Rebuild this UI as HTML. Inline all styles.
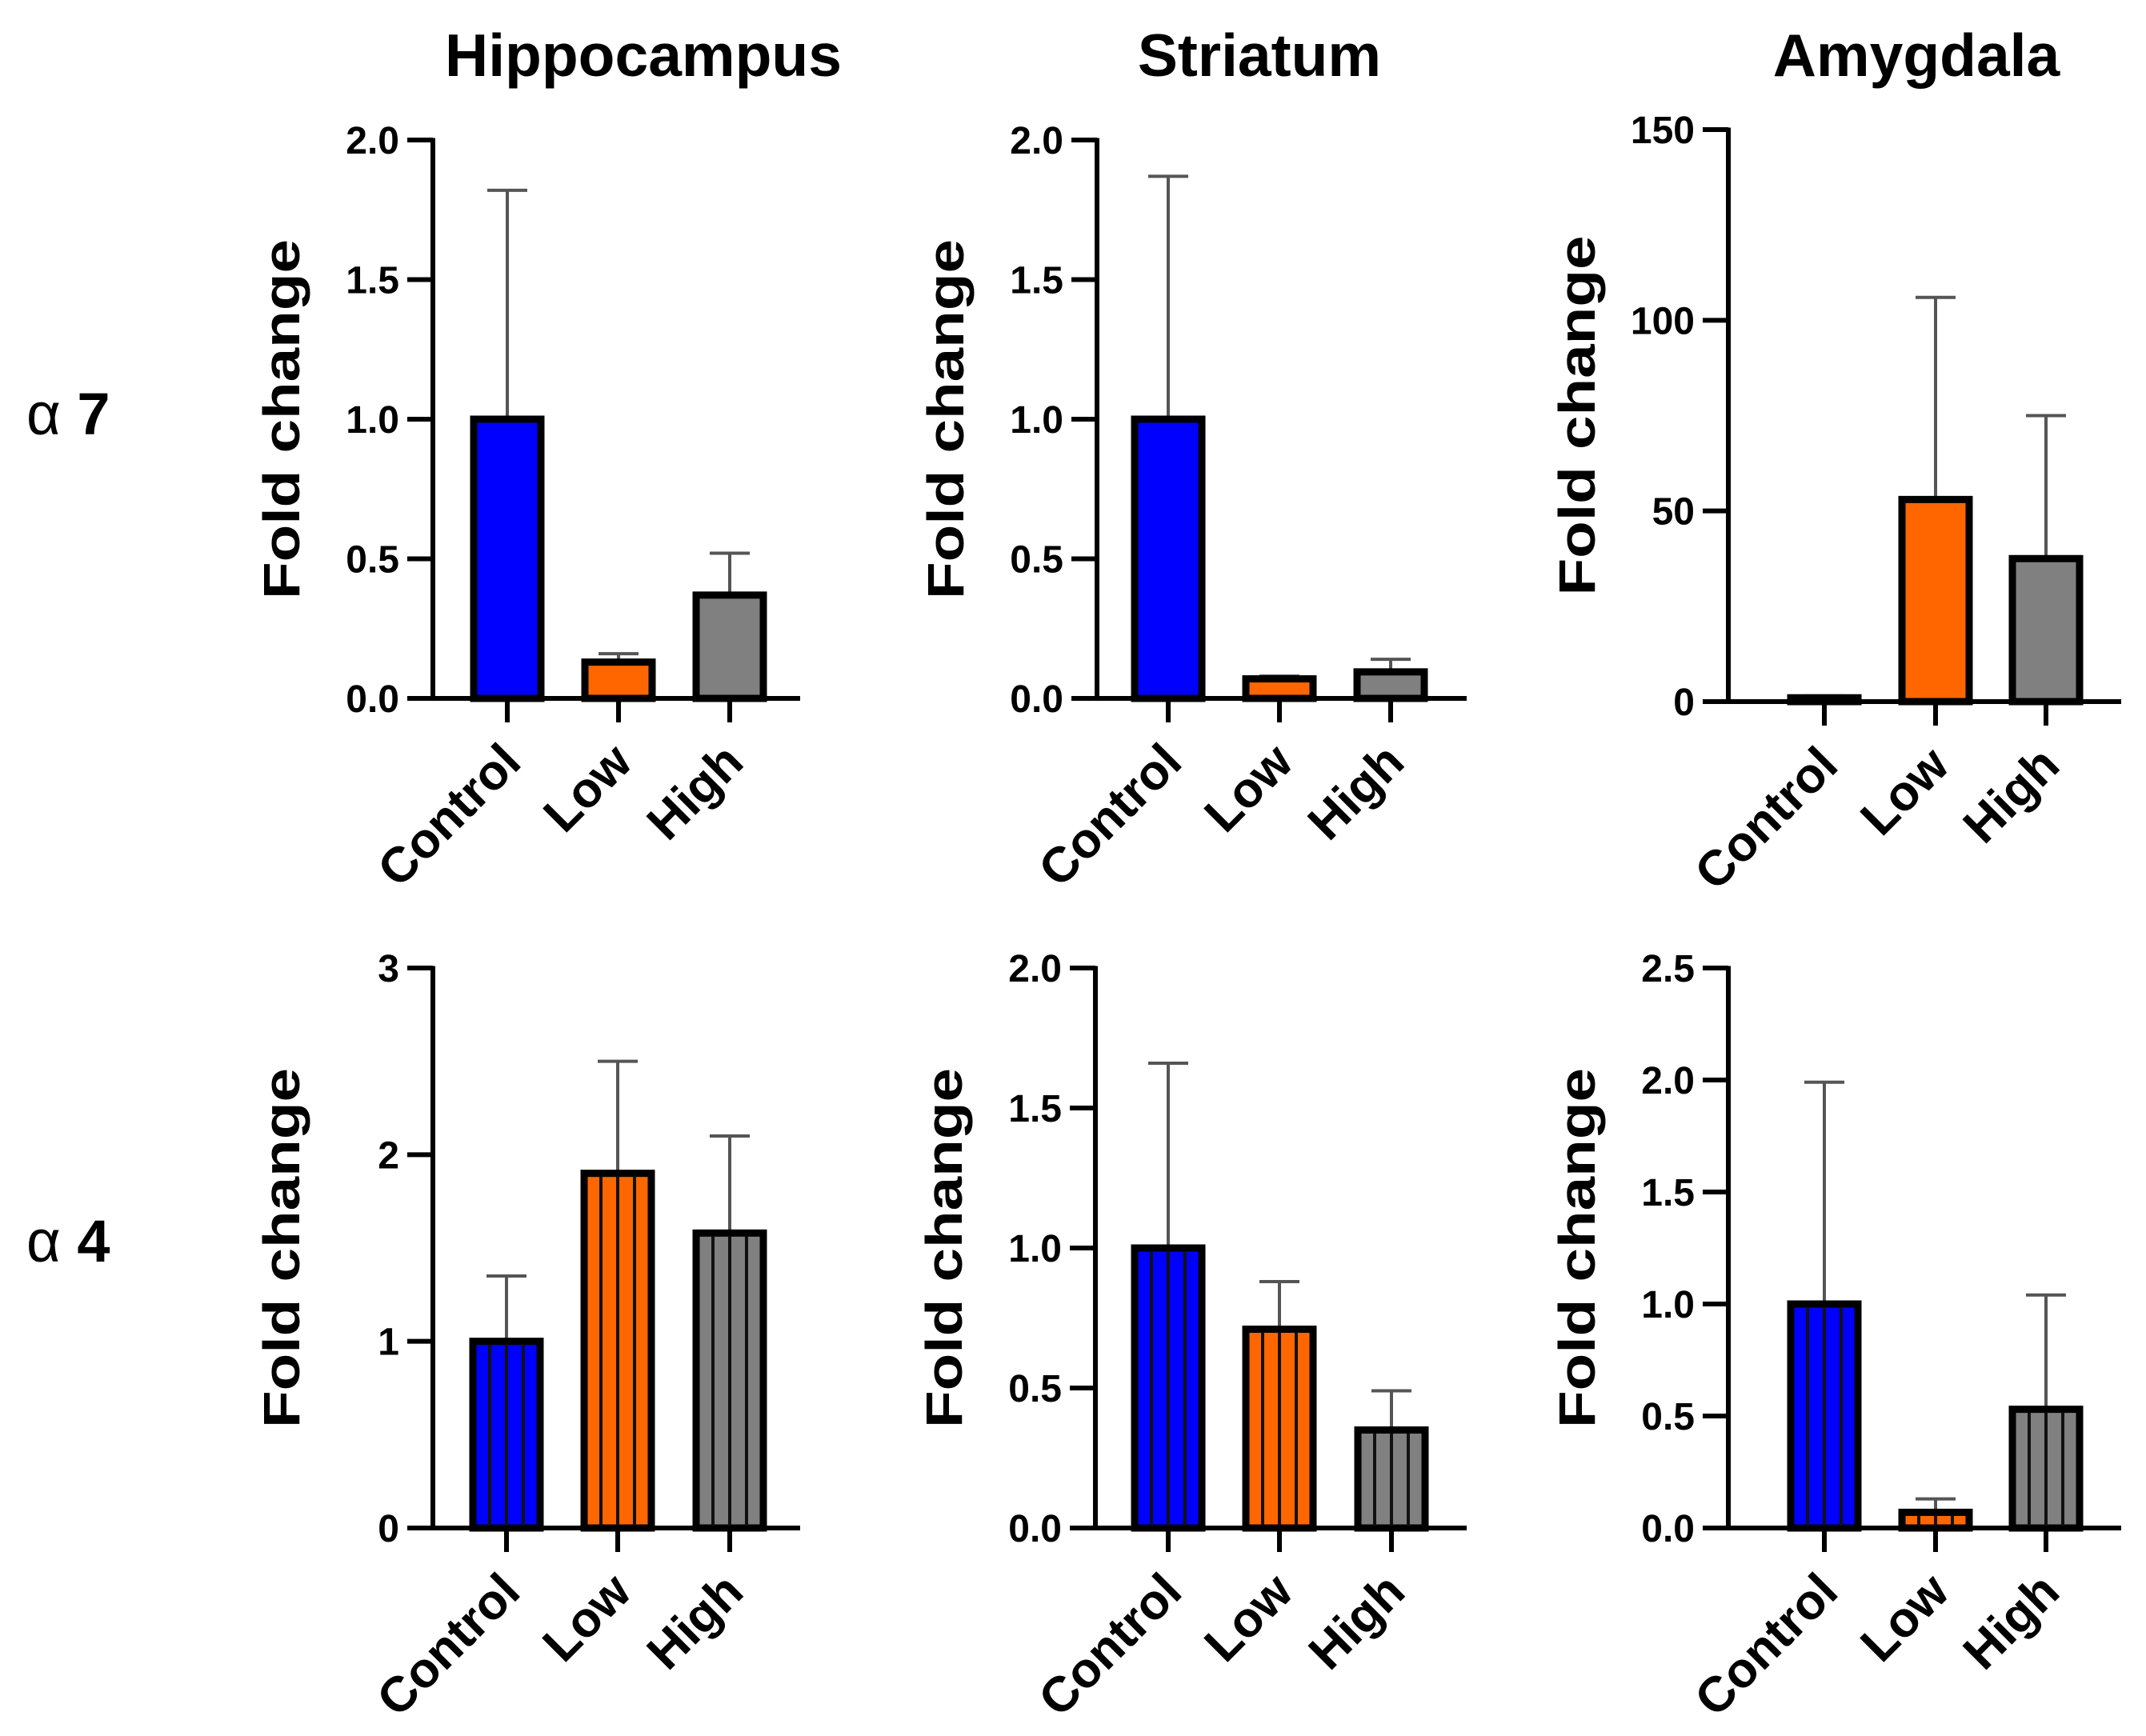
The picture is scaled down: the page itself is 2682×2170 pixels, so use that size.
<!DOCTYPE html>
<html><head><meta charset="utf-8"><style>
html,body{margin:0;padding:0;background:#fff;}
svg text{font-family:"Liberation Sans",Arial,sans-serif;}
</style></head><body>
<svg id="fig" width="2682" height="2165" viewBox="0 0 2682 2165" xmlns="http://www.w3.org/2000/svg">
<text x="804" y="95" font-size="75" font-weight="bold" text-anchor="middle">Hippocampus</text>
<text x="1574" y="95" font-size="75" font-weight="bold" text-anchor="middle">Striatum</text>
<text x="2395" y="95" font-size="75" font-weight="bold" text-anchor="middle">Amygdala</text>
<text x="33" y="543" font-size="74">α <tspan font-weight="bold">7</tspan></text>
<text x="33" y="1577" font-size="74">α <tspan font-weight="bold">4</tspan></text>
</svg>
<script>
const categories = ["Control","Low","High"];
const colors = ["#0000ff","#ff6600","#808080"];
const hipA7Means = [1.0, 0.13, 0.37];
const hipA7Errs  = [1.82, 0.16, 0.52];
const strA7Means = [1.0, 0.07, 0.095];
const strA7Errs  = [1.87, 0.08, 0.14];
const amyA7Means = [1.0, 53, 37.5];
const amyA7Errs  = [1.5, 106, 75];
const hipA4Means = [1.0, 1.9, 1.58];
const hipA4Errs  = [1.35, 2.5, 2.1];
const strA4Means = [1.0, 0.71, 0.35];
const strA4Errs  = [1.66, 0.88, 0.49];
const amyA4Means = [1.0, 0.07, 0.53];
const amyA4Errs  = [1.99, 0.13, 1.04];
const ticksA = [0, 0.5, 1.0, 1.5, 2.0];
const tickLabelsA = ["0.0","0.5","1.0","1.5","2.0"];
const ticksB = [0, 50, 100, 150];
const tickLabelsB = ["0","50","100","150"];
const ticksC = [0, 1, 2, 3];
const tickLabelsC = ["0","1","2","3"];
const ticksD = [0, 0.5, 1.0, 1.5, 2.0, 2.5];
const tickLabelsD = ["0.0","0.5","1.0","1.5","2.0","2.5"];

const NS = "http://www.w3.org/2000/svg";
const svg = document.getElementById("fig");
function mk(tag, attrs, parent){
  const e = document.createElementNS(NS, tag);
  for (const k in attrs) e.setAttribute(k, attrs[k]);
  (parent||svg).appendChild(e);
  return e;
}
const panels = [
  {id:"hippocampus-a7", ax:541, xEnd:1000, top:175, zero:873, max:2.0, ticks:ticksA, labels:tickLabelsA, means:hipA7Means, errs:hipA7Errs, offs:[93,232,371], stripes:false},
  {id:"striatum-a7", ax:1371, xEnd:1833, top:175, zero:873, max:2.0, ticks:ticksA, labels:tickLabelsA, means:strA7Means, errs:strA7Errs, offs:[89,228,367], stripes:false},
  {id:"amygdala-a7", ax:2160, xEnd:2651, top:162, zero:877, max:150, ticks:ticksB, labels:tickLabelsB, means:amyA7Means, errs:amyA7Errs, offs:[120,259,397], stripes:false},
  {id:"hippocampus-a4", ax:541, xEnd:1000, top:1210, zero:1910, max:3, ticks:ticksC, labels:tickLabelsC, means:hipA4Means, errs:hipA4Errs, offs:[92,231,371], stripes:true},
  {id:"striatum-a4", ax:1369, xEnd:1833, top:1210, zero:1910, max:2.0, ticks:ticksA, labels:tickLabelsA, means:strA4Means, errs:strA4Errs, offs:[91,230,370], stripes:true},
  {id:"amygdala-a4", ax:2160, xEnd:2651, top:1210, zero:1910, max:2.5, ticks:ticksD, labels:tickLabelsD, means:amyA4Means, errs:amyA4Errs, offs:[120,259,397], stripes:true}
];
panels.forEach(p=>{
  const g = mk("g",{});
  
  
  const y = v => p.zero - (v/p.max)*(p.zero-p.top);
  const yt = mk("text",{x:0,y:0,"font-size":64,"font-weight":"bold","text-anchor":"middle",textLength:450,lengthAdjust:"spacingAndGlyphs",transform:`translate(${p.ax-167},${(p.top+p.zero)/2}) rotate(-90)`},g);
  yt.textContent = "Fold change";
  
  
  p.means.forEach((m,i)=>{
    const cx = p.ax + p.offs[i];
    const w = 84;
    const yb = y(m);
    const ye = y(p.errs[i]);
    const el = mk("line",{x1:cx,x2:cx,y1:yb,y2:ye,stroke:"#555","stroke-width":4},g);
    
    
    const cap = mk("line",{x1:cx-25,x2:cx+25,y1:ye,y2:ye,stroke:"#555","stroke-width":4},g);
    
    
    const h = Math.max(p.zero - yb, 0);
    const r = mk("rect",{x:cx-w/2,y:yb,width:w,height:h,fill:colors[i],stroke:"#000","stroke-width":9},g);
    
    
    if (p.stripes && h > 10){
      [1,2,3].forEach(k=>{
        const sx = cx - w/2 + k*w/4;
        const s = mk("line",{x1:sx,x2:sx,y1:yb+4,y2:p.zero,stroke:"#111","stroke-width":4},g);
        
        
      });
    }
    const t = mk("line",{x1:cx,x2:cx,y1:p.zero,y2:p.zero+30,stroke:"#000","stroke-width":6},g);
    
    
    const lab = mk("text",{x:0,y:0,"font-size":62,"font-weight":"bold","text-anchor":"end",transform:`translate(${cx+20},${p.zero+83}) rotate(-45)`},g);
    lab.textContent = categories[i];
    
    
  });
  const ya = mk("line",{x1:p.ax,x2:p.ax,y1:p.top-2.5,y2:p.zero+2.5,stroke:"#000","stroke-width":6},g);
  
  
  const xa = mk("line",{x1:p.ax-32,x2:p.xEnd,y1:p.zero,y2:p.zero,stroke:"#000","stroke-width":6},g);
  
  
  p.ticks.forEach((tv,j)=>{
    const ty = y(tv);
    const tk = mk("line",{x1:p.ax-32,x2:p.ax,y1:ty,y2:ty,stroke:"#000","stroke-width":6},g);
    
    
    const tl = mk("text",{x:p.ax-42,y:ty+17,"font-size":48,"font-weight":"bold","text-anchor":"end"},g);
    tl.textContent = p.labels[j];
    
    
  });
});
</script>
</body></html>
